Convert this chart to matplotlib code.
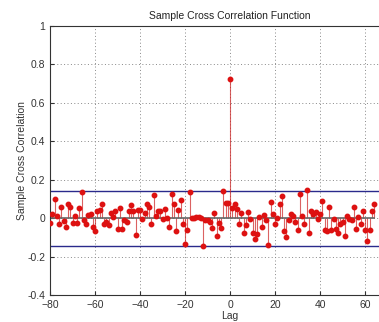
import matplotlib.pyplot as plt
import numpy as np

plt.rcParams['font.family'] = ['Liberation Sans', 'DejaVu Sans']

# lags shown in the picture (the right side of the plot is cut off)
lags = np.arange(-80, 65)

# sample cross correlation, lag -80 .. 64
xcf = [-0.024, 0.024, 0.099, 0.012, -0.033, 0.059, -0.017, -0.048, 0.076, 0.059,
       -0.024, 0.012, -0.024, 0.054, 0.138, -0.012, -0.029, 0.017, 0.024, -0.047,
       -0.067, 0.038, 0.042, 0.071, -0.031, -0.021, -0.035, 0.029, 0.005, 0.038,
       -0.055, 0.054, -0.055, -0.009, -0.022, 0.038, 0.066, 0.038, -0.087, 0.042,
       0.042, -0.005, 0.029, 0.071, 0.059, -0.033, 0.121, 0.012, 0.035, 0.038,
       -0.002, 0.050, 0.000, -0.048, 0.126, 0.073, -0.067, 0.042, 0.097, -0.029,
       -0.133, -0.064, 0.138, 0.000, 0.003, 0.005, 0.005, 0.003, -0.147, -0.010,
       -0.012, -0.019, -0.050, 0.029, -0.093, -0.026, -0.052, 0.143, 0.081, 0.078,
       0.725,
       0.052, 0.071, 0.047, -0.033, 0.026, -0.078, -0.035, 0.031, -0.005, -0.076,
       -0.111, -0.081, 0.005, -0.048, 0.014, -0.012, -0.140, 0.083, 0.019, -0.033,
       0.000, 0.074, 0.114, -0.069, -0.099, -0.009, 0.021, 0.010, -0.022, -0.061,
       0.126, 0.010, -0.033, 0.144, -0.078, 0.035, 0.022, 0.031, -0.005, 0.019,
       0.088, -0.061, -0.068, 0.057, -0.061, -0.003, -0.055, -0.076, -0.029, -0.021,
       -0.095, 0.010, -0.002, -0.009, 0.057, -0.055, 0.005, -0.029, 0.035, -0.061,
       -0.121, -0.064, 0.035, 0.074]

conf = 0.143

fig = plt.figure(figsize=(3.79, 3.22), dpi=100)
ax = fig.add_axes([0.132, 0.084, 0.95, 0.835])

ax.axhline(conf, color='#2a2a8c', lw=1.0, zorder=2)
ax.axhline(-conf, color='#2a2a8c', lw=1.0, zorder=2)

markers, stems, base = ax.stem(lags, xcf, basefmt='-')
plt.setp(stems, color='#cc2020', lw=0.8, alpha=0.7)
plt.setp(markers, color='#dd1111', markersize=3.2, zorder=4)
plt.setp(base, color='#666666', lw=1.2)

ax.set_xlim(-80, 80)
ax.set_ylim(-0.4, 1)
ax.set_xticks(np.arange(-80, 61, 20))
ax.set_yticks([-0.4, -0.2, 0, 0.2, 0.4, 0.6, 0.8, 1])
ax.set_yticklabels(['-0.4', '-0.2', '0', '0.2', '0.4', '0.6', '0.8', '1'])
ax.grid(True, linestyle=(0, (1, 2.5)), color='#888888', lw=0.7)
ax.tick_params(direction='in', labelsize=7.5, colors='#333333', length=3)
for s in ax.spines.values():
    s.set_color('#333333')

ax.set_title('Sample Cross Correlation Function', fontsize=7.5, color='#222222', pad=5)
ax.set_xlabel('Lag', fontsize=7.5, color='#333333', labelpad=1)
ax.set_ylabel('Sample Cross Correlation', fontsize=7.5, color='#333333', labelpad=0)

fig.savefig('out.png', dpi=100)
